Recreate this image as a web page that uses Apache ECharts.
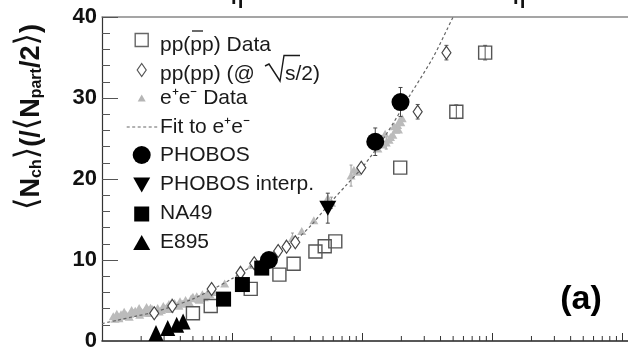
<!DOCTYPE html>
<html><head><meta charset="utf-8">
<script src="https://cdn.jsdelivr.net/npm/echarts@6/dist/echarts.min.js"></script>
<style>html,body{margin:0;padding:0;background:#fff}#c{width:628px;height:352px}</style>
</head><body><div id="c"></div>
<script>
// ---------------- data (x = sqrt(s) in GeV, y = <Nch>/(<Npart>/2)) ----------------
const ppX   = [5.0, 6.85, 13.9, 23.1, 29.7, 43.7, 51.5, 62.1, 196, 529, 881];
const ppY   = [3.42, 4.32, 6.43, 8.20, 9.53, 11.05, 11.70, 12.30, 21.40, 28.30, 35.60];
const ppErr = [0, 0, 0, 0, 0, 0, 0, 0, 0, 0.85, 0.90];

const ppHalfX   = [2.52, 3.47, 6.96, 11.6, 14.8, 22.6, 26.2, 30.6, 98.4, 267, 444];
const ppHalfY   = [3.42, 4.32, 6.43, 8.41, 9.61, 11.10, 11.65, 12.20, 21.40, 28.30, 35.60];
const ppHalfErr = [0, 0, 0, 0, 0, 0, 0, 0, 0.25, 0.90, 0.90];

const eeX = [1.26, 1.345, 1.436, 1.53, 1.64, 1.75, 1.87, 2.0, 2.13, 2.28, 2.43, 2.68, 2.96, 3.27, 3.61, 3.98,
             4.39, 4.85, 5.35, 5.91, 6.52, 7.20, 8.77, 11.4, 14.1, 17.5, 22.0, 26.0, 29.1, 34.3, 42.5, 54.4,
             58.1, 82.1, 86.3, 90.6, 132, 144, 153, 161, 172, 181, 187, 193, 203,
             1.30, 1.48, 1.69, 1.93, 2.2, 2.51, 2.86, 3.16, 3.85, 4.54, 5.53, 6.1, 6.75,
             1.22, 1.40, 1.58, 1.80, 2.06, 2.36, 2.60, 3.05, 3.45, 4.15, 5.0, 5.75, 6.3, 7.0,
             1.35, 1.62, 1.95, 2.32, 2.75, 3.30, 3.90, 4.70, 5.60,
             140, 150, 165, 176, 190, 198];
const eeY = [2.76, 3.00, 3.12, 3.24, 3.36, 3.48, 3.60, 3.60, 3.72, 3.84, 3.96, 4.08, 4.32, 4.56, 4.68, 4.92,
             5.05, 5.29, 5.53, 5.77, 6.01, 6.25, 7.09, 8.29, 9.37, 10.09, 11.05, 11.89, 12.73, 13.57, 14.90, 17.66,
             17.06, 20.42, 21.14, 20.90, 23.78, 24.26, 24.50, 24.86, 25.47, 26.07, 26.67, 27.15, 27.51,
             3.36, 3.60, 3.84, 4.08, 4.20, 3.48, 3.84, 4.20, 4.44, 4.68, 5.17, 5.41, 5.77,
             3.05, 3.30, 3.10, 3.75, 3.50, 4.10, 3.70, 4.05, 4.85, 4.60, 5.45, 5.35, 5.60, 6.05,
             2.80, 3.00, 3.25, 3.45, 3.65, 3.95, 4.35, 4.75, 5.10,
             25.0, 25.6, 25.2, 26.5, 26.1, 27.0];
const eeErrX = [29.1, 58.1, 82.1, 153];
const eeErrY = [12.73, 17.06, 20.42, 24.50];
const eeErrE = [0.6, 0.7, 1.3, 0.8];

const fitX = [1.0, 1.3, 1.8, 2.5, 3.5, 5.0, 7.0, 10, 15, 20, 26, 31, 40, 55, 78, 100, 150, 230, 350, 500, 600];
const fitY = [2.15, 2.55, 3.05, 3.55, 4.30, 5.20, 6.35, 7.70, 9.50, 10.80, 11.80, 12.50, 14.20, 16.80, 19.50, 21.40, 25.30, 30.20, 35.00, 40.00, 42.50];

const phobosX = [19.2, 126, 197];
const phobosY = [10.0, 24.6, 29.5];
const phobosErr = [0.8, 1.7, 1.8];

const interpX = [54.4];
const interpY = [16.4];
const interpErr = [1.85];

const na49X = [8.6, 12.0, 16.9];
const na49Y = [5.17, 6.97, 9.0];

const e895X = [2.6, 3.2, 3.75, 4.2];
const e895Y = [1.0, 1.6, 2.0, 2.4];

const yTicks = [0, 10, 20, 30, 40];
const xMinorTicks = [2,3,4,5,6,7,8,9, 20,30,40,50,60,70,80,90, 200,300,400,500,600,700,800,900, 2000,3000,4000,5000,6000,7000,8000,9000];

const legendLabels = ['pp(pp) Data', 'pp(pp) (@', 's/2)', 'e\u207Ae\u207B Data', 'Fit to e\u207Ae\u207B',
                      'PHOBOS', 'PHOBOS interp.', 'NA49', 'E895'];
const yTitle = '{k|\u27E8}{b|N}{s|ch}{k|\u27E9}{b|(/}{k|\u27E8}{b|N}{s|part}{b|/2}{k|\u27E9}{b|)}';
const panelLabel = '(a)';

// ---------------- chart ----------------
const FF = "'Liberation Sans', Arial, Helvetica, sans-serif";
const pts = (xs, ys) => xs.map((x, i) => [x, ys[i]]);
function errSeries(xs, ys, es, color, capW, z) {
  const data = [];
  xs.forEach((x, i) => { if (es[i] > 0) data.push([x, ys[i] - es[i], ys[i] + es[i]]); });
  return {
    type: 'custom', silent: true, z: z, data: data, encode: { x: 0, y: [1, 2] },
    renderItem: (p, api) => {
      const lo = api.coord([api.value(0), api.value(1)]);
      const hi = api.coord([api.value(0), api.value(2)]);
      const st = { stroke: color, lineWidth: 1 };
      return { type: 'group', children: [
        { type: 'line', shape: { x1: lo[0], y1: lo[1], x2: hi[0], y2: hi[1] }, style: st },
        { type: 'line', shape: { x1: lo[0] - capW, y1: lo[1], x2: lo[0] + capW, y2: lo[1] }, style: st },
        { type: 'line', shape: { x1: hi[0] - capW, y1: hi[1], x2: hi[0] + capW, y2: hi[1] }, style: st }
      ]};
    }
  };
}

const LX = 141.7, TX = 160;
const txt = (s, x, y) => ({ type: 'text', x: x, y: y, z: 20,
  style: { text: s, fontFamily: FF, fontSize: 21, fill: '#1a1a1a', align: 'left', verticalAlign: 'middle' } });
const poly = (p, fill, stroke) => ({ type: 'polygon', z: 20, shape: { points: p },
  style: { fill: fill, stroke: stroke || null, lineWidth: 1.2 } });

const graphic = [
  { type: 'rect', z: 20, shape: { x: LX - 6.5, y: 40 - 6.5, width: 13, height: 13 }, style: { fill: 'none', stroke: '#666', lineWidth: 1.4 } },
  txt(legendLabels[0], TX, 45),
  { type: 'line', z: 20, shape: { x1: 192, y1: 31, x2: 203, y2: 31 }, style: { stroke: '#1a1a1a', lineWidth: 1.3 } },
  poly([[LX, 63.5], [LX + 4.5, 70], [LX, 76.5], [LX - 4.5, 70]], '#fff', '#555'),
  txt(legendLabels[1], TX, 74),
  { type: 'polyline', z: 20, shape: { points: [[265, 66], [269, 64], [280, 81], [284, 55.5], [300, 55.5]] }, style: { stroke: '#1a1a1a', lineWidth: 1.4, fill: null } },
  txt(legendLabels[2], 285, 74),
  poly([[LX, 94.5], [LX + 4, 101.5], [LX - 4, 101.5]], '#b5b5b5'),
  txt(legendLabels[3], TX, 98),
  { type: 'line', z: 20, shape: { x1: 126.7, y1: 127, x2: 158.3, y2: 127 }, style: { stroke: '#666', lineWidth: 1.2, lineDash: [3, 2.5] } },
  txt(legendLabels[4], TX, 127),
  { type: 'circle', z: 20, shape: { cx: LX, cy: 155, r: 9 }, style: { fill: '#000' } },
  txt(legendLabels[5], TX, 155),
  poly([[LX - 8.5, 177.5], [LX + 8.5, 177.5], [LX, 192.5]], '#000'),
  txt(legendLabels[6], TX, 184),
  { type: 'rect', z: 20, shape: { x: LX - 7.5, y: 214 - 7.5, width: 15, height: 15 }, style: { fill: '#000' } },
  txt(legendLabels[7], TX, 213),
  poly([[LX, 235], [LX + 8.5, 250], [LX - 8.5, 250]], '#000'),
  txt(legendLabels[8], TX, 242),
  { type: 'text', x: 581, y: 300, z: 20, style: { text: panelLabel, fontFamily: FF, fontWeight: 'bold', fontSize: 34, fill: '#000', align: 'center', verticalAlign: 'middle' } },
  { type: 'text', x: 45, y: 117, rotation: Math.PI / 2, z: 20, style: {
      text: yTitle, align: 'center', verticalAlign: 'bottom',
      rich: {
        b: { fontFamily: FF, fontWeight: 'bold', fontSize: 27, lineHeight: 27, fill: '#111', verticalAlign: 'bottom' },
        k: { fontFamily: "'DejaVu Sans', sans-serif", fontWeight: 'normal', fontSize: 32, lineHeight: 30, fill: '#111', verticalAlign: 'bottom' },
        s: { fontFamily: FF, fontWeight: 'bold', fontSize: 16, lineHeight: 16, fill: '#111', verticalAlign: 'bottom' }
      } } },
  { type: 'text', x: 237, y: 8, z: 20, style: { text: '\u03B7', fontFamily: FF, fontWeight: 'bold', fontSize: 20, fill: '#111', align: 'center', verticalAlign: 'bottom' } },
  { type: 'text', x: 519, y: 8, z: 20, style: { text: '\u03B7', fontFamily: FF, fontWeight: 'bold', fontSize: 20, fill: '#111', align: 'center', verticalAlign: 'bottom' } }
];

const X_MIN = 1, X_MAX = 11041;
const option = {
  animation: false,
  backgroundColor: '#fff',
  grid: { left: 102, right: -40, top: 17, bottom: 2, containLabel: false },
  xAxis: [
    { type: 'log', logBase: 10, min: X_MIN, max: X_MAX, position: 'bottom',
      axisLine: { lineStyle: { color: '#222', width: 1.5 } },
      axisTick: { inside: true, length: 8, lineStyle: { color: '#333', width: 1 } },
      axisLabel: { show: false }, splitLine: { show: false }, minorTick: { show: false } },
    { type: 'log', logBase: 10, min: X_MIN, max: X_MAX, position: 'top',
      axisLine: { lineStyle: { color: '#888', width: 1.5 } },
      axisTick: { show: false }, axisLabel: { show: false }, splitLine: { show: false } }
  ],
  yAxis: {
    type: 'value', min: yTicks[0], max: yTicks[yTicks.length - 1], interval: 10,
    axisLine: { show: true, lineStyle: { color: '#333', width: 1.2 } },
    axisTick: { inside: true, length: 16, lineStyle: { color: '#555', width: 1 } },
    minorTick: { show: true, splitNumber: 5, length: 8, lineStyle: { color: '#555', width: 1 } },
    axisLabel: { fontFamily: FF, fontWeight: 'bold', fontSize: 22, color: '#111', margin: 5 },
    splitLine: { show: false }
  },
  series: [
    { type: 'custom', name: 'xminor', silent: true, z: 10, data: xMinorTicks.map(v => [v, 0]), encode: { x: 0, y: 1 }, clip: false,
      renderItem: (p, api) => {
        const c = api.coord([api.value(0), 0]);
        return { type: 'line', shape: { x1: c[0], y1: c[1], x2: c[0], y2: c[1] - 5 }, style: { stroke: '#333', lineWidth: 1 } };
      } },
    { type: 'scatter', name: 'e+e- Data', z: 2, data: pts(eeX, eeY), symbol: 'triangle', symbolSize: [9, 8],
      itemStyle: { color: '#bbbbbb', opacity: 1 }, silent: true },
    errSeries(eeErrX, eeErrY, eeErrE, '#999', 1.5, 2),
    { type: 'line', name: 'Fit to e+e-', z: 3, data: pts(fitX, fitY), symbol: 'none', smooth: 0.3,
      lineStyle: { color: '#666', width: 1.2, type: [3, 2.5] }, silent: true },
    errSeries(ppX, ppY, ppErr, '#555', 2, 4),
    { type: 'scatter', name: 'pp(pp) Data', z: 4, data: pts(ppX, ppY), symbol: 'rect', symbolSize: 13,
      itemStyle: { color: 'rgba(0,0,0,0)', borderColor: '#555', borderWidth: 1.4, opacity: 1 }, silent: true },
    errSeries(ppHalfX, ppHalfY, ppHalfErr, '#555', 2, 5),
    { type: 'scatter', name: 'pp(pp) (@ sqrt(s)/2)', z: 5, data: pts(ppHalfX, ppHalfY), symbol: 'diamond', symbolSize: [9, 13],
      itemStyle: { color: '#fff', borderColor: '#444', borderWidth: 1.2, opacity: 1 }, silent: true },
    { type: 'scatter', name: 'E895', z: 6, data: pts(e895X, e895Y), symbol: 'triangle', symbolSize: [15, 16],
      itemStyle: { color: '#000', opacity: 1 }, silent: true },
    { type: 'scatter', name: 'NA49', z: 6, data: pts(na49X, na49Y), symbol: 'rect', symbolSize: 15,
      itemStyle: { color: '#000', opacity: 1 }, silent: true },
    errSeries(interpX, interpY, interpErr, '#444', 2, 6),
    { type: 'scatter', name: 'PHOBOS interp.', z: 6, data: pts(interpX, interpY), symbol: 'triangle', symbolRotate: 180, symbolSize: [17, 15],
      itemStyle: { color: '#000', opacity: 1 }, silent: true },
    errSeries(phobosX, phobosY, phobosErr, '#444', 2, 7),
    { type: 'scatter', name: 'PHOBOS', z: 7, data: pts(phobosX, phobosY), symbol: 'circle', symbolSize: 18,
      itemStyle: { color: '#000', opacity: 1 }, silent: true }
  ],
  graphic: graphic
};
const chart = echarts.init(document.getElementById('c'), null, { renderer: 'canvas' });
chart.setOption(option);
</script>
</body></html>
